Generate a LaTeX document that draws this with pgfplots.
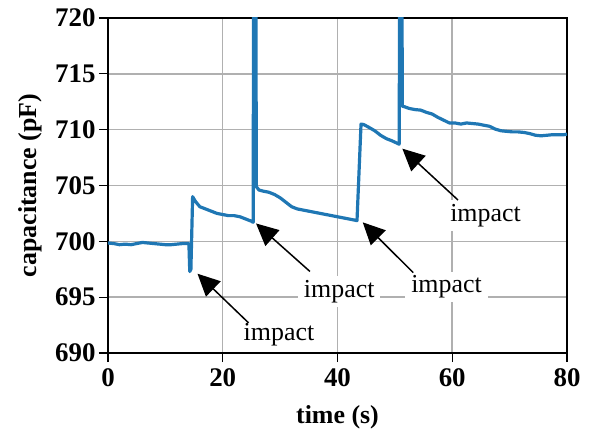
\documentclass[border=0pt]{standalone}
\usepackage{fontspec}
\setmainfont{Liberation Serif}
\usepackage{pgfplots}
\pgfplotsset{compat=1.18}
\usetikzlibrary{arrows.meta}
\definecolor{mplblue}{HTML}{1F77B4}
\begin{document}
\begin{tikzpicture}
\begin{axis}[
  at={(0,0)}, anchor=south west,
  scale only axis,
  width=459bp, height=335bp,
  xmin=0, xmax=80, ymin=690, ymax=720,
  xtick={0,20,40,60,80},
  ytick={690,695,...,720},
  grid=major,
  grid style={color=black!31, line width=1.5bp},
  axis line style={line width=1.2bp},
  tick align=outside, tick pos=left,
  major tick length=9bp,
  major tick style={black, line width=1.2bp},
  /pgf/number format/assume math mode=true,
  ticklabel style={font=\fontsize{27}{29}\selectfont\bfseries},
  xticklabel style={yshift=-3bp},
  label style={font=\fontsize{26}{28}\selectfont\bfseries},
  xlabel={time (s)},
  ylabel={capacitance (pF)},
  xlabel shift=12bp,
  ylabel shift=6bp,
  clip mode=individual,
]
\addplot[mplblue, line width=3.2bp, line join=round] coordinates {
(0,699.85) (1,699.8) (2,699.7) (3,699.75) (4,699.7) (5,699.8) (6,699.9) (7,699.85)
(8,699.8) (9,699.75) (10,699.7) (11,699.7) (12,699.75) (13,699.8) (14,699.8)
(14.1,699.8) (14.25,697.3) (14.45,697.5) (14.75,704.0) (15.2,703.6) (16,703.1)
(17,702.9) (18,702.7) (19,702.5) (20,702.4) (21,702.3) (22,702.3) (23,702.2)
(24,702.0) (25,701.8) (25.3,701.7) (25.45,745) (25.7,745) (25.85,704.9) (26.3,704.6)
(27,704.5) (28,704.4) (29,704.2) (30,703.9) (31,703.5) (32,703.1) (33,702.9)
(34,702.8) (35,702.7) (36,702.6) (37,702.5) (38,702.4) (39,702.3) (40,702.2)
(41,702.1) (42,702.0) (43,701.9) (43.4,701.85) (44.1,710.5) (44.6,710.45)
(45.5,710.2) (46.5,709.9) (47.5,709.5) (48.5,709.2) (49.5,709.0) (50.75,708.7)
(50.95,745) (51.1,745) (51.3,712.1) (51.7,712.05) (52.5,711.9) (53.5,711.8) (54.5,711.75)
(55.5,711.55) (56.5,711.4) (57.5,711.1) (58.5,710.85) (59.5,710.6) (60.5,710.6)
(61.5,710.5) (62.5,710.6) (63.5,710.55) (64.5,710.5) (65.5,710.4) (66.5,710.3)
(67.5,710.05) (68.5,709.9) (69.5,709.85) (70.5,709.8) (71.5,709.8) (72.5,709.75)
(73.5,709.65) (74.5,709.5) (75.5,709.45) (76.5,709.5) (77.5,709.55) (78.5,709.55)
(79.5,709.55) (80,709.6)
};
\begin{scope}[every node/.style={fill=white, inner xsep=6bp, inner ysep=4bp, font=\fontsize{26}{28}\selectfont}]
\node at (axis cs:29.8,691.6) {impact};
\node at (axis cs:40.3,695.5) {impact};
\node at (axis cs:59.0,695.9) {impact};
\node at (axis cs:65.8,702.3) {impact};
\end{scope}
\draw[black, line width=1.5bp, -{Triangle[length=22bp,width=21bp]}] (axis cs:24.5,692.7) -- (axis cs:15.6,697.1);
\draw[black, line width=1.5bp, -{Triangle[length=22bp,width=21bp]}] (axis cs:35.2,697.3) -- (axis cs:25.8,701.6);
\draw[black, line width=1.5bp, -{Triangle[length=22bp,width=21bp]}] (axis cs:53.2,697.2) -- (axis cs:44.4,701.7);
\draw[black, line width=1.5bp, -{Triangle[length=22bp,width=21bp]}] (axis cs:61.0,703.7) -- (axis cs:51.3,708.3);
\end{axis}
\pgfresetboundingbox
\path[use as bounding box] (-108bp,-79bp) rectangle (484bp,353bp);
\end{tikzpicture}
\end{document}
